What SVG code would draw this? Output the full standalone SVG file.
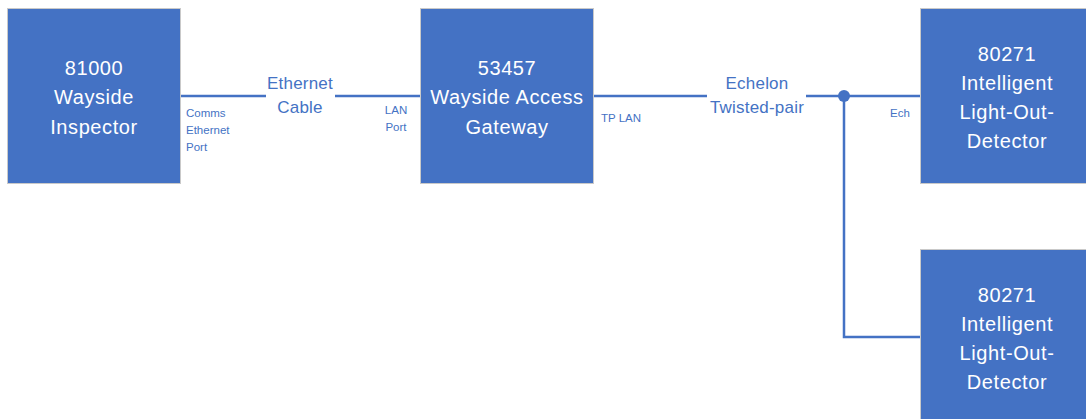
<svg xmlns="http://www.w3.org/2000/svg" width="1086" height="419" viewBox="0 0 1086 419">
<style>
.box{fill:#4472C4;stroke:#c9c9c9;stroke-width:1}
.bt{font-family:"Liberation Sans",Arial,sans-serif;font-size:20px;letter-spacing:0.6px;fill:#ffffff;text-anchor:middle}
.lt{font-family:"Liberation Sans",Arial,sans-serif;font-size:17px;letter-spacing:0.2px;fill:#4472C4;text-anchor:middle}
.st{font-family:"Liberation Sans",Arial,sans-serif;font-size:11.5px;fill:#4472C4}
.ln{fill:none;stroke:#4472C4;stroke-width:2.5}
</style>
<rect width="1086" height="419" fill="#ffffff"/>
<g id="connectors">
<path class="ln" d="M181,96 H266 M335,96 H420"/>
<path class="ln" d="M594,96 H707 M806,96 H920"/>
<path class="ln" d="M844,96 V337 H920"/>
<circle cx="844" cy="96" r="6" fill="#4472C4"/>
<text class="lt" x="300" y="89">Ethernet</text>
<text class="lt" x="300" y="113">Cable</text>
<text class="lt" x="757" y="89">Echelon</text>
<text class="lt" x="757" y="113">Twisted-pair</text>
<text class="st" x="186" y="117">Comms</text>
<text class="st" x="186" y="134">Ethernet</text>
<text class="st" x="186" y="151">Port</text>
<text class="st" x="396" y="114" text-anchor="middle">LAN</text>
<text class="st" x="396" y="131" text-anchor="middle">Port</text>
<text class="st" x="601" y="122">TP LAN</text>
<text class="st" x="890" y="117">Ech</text>
</g>
<g id="n81000">
<rect class="box" x="7.5" y="8.5" width="173" height="175"/>
<text class="bt" x="94" y="75">81000</text>
<text class="bt" x="94" y="104">Wayside</text>
<text class="bt" x="94" y="134">Inspector</text>
</g>
<g id="n53457">
<rect class="box" x="420.5" y="8.5" width="173" height="175"/>
<text class="bt" x="507" y="75">53457</text>
<text class="bt" x="507" y="104">Wayside Access</text>
<text class="bt" x="507" y="134">Gateway</text>
</g>
<g id="n80271a">
<rect class="box" x="920.5" y="8.5" width="180" height="175"/>
<text class="bt" x="1007" y="61">80271</text>
<text class="bt" x="1007" y="90">Intelligent</text>
<text class="bt" x="1007" y="119">Light-Out-</text>
<text class="bt" x="1007" y="148">Detector</text>
</g>
<g id="n80271b">
<rect class="box" x="920.5" y="249.5" width="180" height="180"/>
<text class="bt" x="1007" y="302">80271</text>
<text class="bt" x="1007" y="331">Intelligent</text>
<text class="bt" x="1007" y="360">Light-Out-</text>
<text class="bt" x="1007" y="389">Detector</text>
</g>
</svg>
